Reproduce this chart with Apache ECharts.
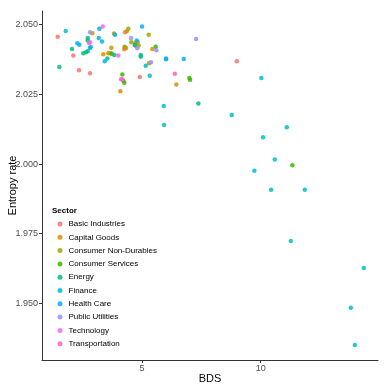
<!DOCTYPE html>
<html>
<head>
<meta charset="utf-8">
<script src="https://cdn.jsdelivr.net/npm/echarts@6/dist/echarts.min.js"></script>
<style>
  html, body { margin: 0; padding: 0; background: #fff; }
  #chart { width: 390px; height: 390px; }
</style>
</head>
<body>
<div id="chart"></div>
<script>
// sectors and their ggplot hue colours
const sectors = ['Basic Industries', 'Capital Goods', 'Consumer Non-Durables', 'Consumer Services',
  'Energy', 'Finance', 'Health Care', 'Public Utilities', 'Technology', 'Transportation'];
const sectorColors = ['#F8766D', '#D89000', '#A3A500', '#39B600', '#00BF7D',
  '#00BFC4', '#00B0F6', '#9590FF', '#E76BF3', '#FF62BC'];

// [BDS, entropy rate] per sector
const basicIndustries = [[1.448, 2.0457], [2.105, 2.0389], [2.345, 2.0336], [2.809, 2.0326], [4.284, 2.0473],
  [4.254, 2.0412], [4.718, 2.0424], [4.903, 2.0312], [8.991, 2.0369]];
const capitalGoods = [[2.906, 2.0469], [3.706, 2.0417], [3.369, 2.0394], [3.580, 2.0397], [3.664, 2.0397],
  [4.355, 2.0476], [4.819, 2.0438], [4.271, 2.0417], [4.326, 2.0416], [5.434, 2.0413], [6.445, 2.0285], [4.086, 2.0261]];
const consumerNonDurables = [[3.820, 2.0468], [4.423, 2.0485], [5.282, 2.0464], [4.549, 2.0437], [4.718, 2.0433],
  [4.271, 2.0421], [4.861, 2.0425], [5.295, 2.0362]];
const consumerServices = [[3.723, 2.0396], [5.577, 2.0421], [4.170, 2.0321], [4.212, 2.0299], [4.254, 2.0292],
  [6.993, 2.0309], [7.023, 2.0302], [11.334, 1.9996]];
const energy = [[2.050, 2.0413], [1.515, 2.0348], [2.712, 2.0452], [2.712, 2.0443], [2.712, 2.0405], [2.640, 2.0401],
  [2.526, 2.0397], [3.832, 2.0391], [3.538, 2.0379], [4.692, 2.0427], [4.945, 2.0391], [4.945, 2.0385], [7.373, 2.0217]];
const finance = [[1.785, 2.0477], [5.156, 2.0353], [5.324, 2.0317], [5.914, 2.0208], [5.927, 2.0140], [8.780, 2.0176],
  [10.027, 2.0309], [11.098, 2.0132], [10.099, 2.0096], [10.592, 2.0016], [9.732, 1.9976], [10.436, 1.9908],
  [11.856, 1.9908], [11.266, 1.9724], [14.343, 1.9627], [13.795, 1.9484], [13.963, 1.9351]];
const healthCare = [[2.274, 2.0433], [2.358, 2.0428], [3.201, 2.0485], [2.838, 2.0420], [2.809, 2.0416], [3.175, 2.0452],
  [3.314, 2.0440], [3.428, 2.0369], [3.862, 2.0464], [5.000, 2.0493], [4.777, 2.0443], [6.011, 2.0379],
  [6.011, 2.0376], [6.757, 2.0377]];
const publicUtilities = [[2.809, 2.0473], [4.536, 2.0452], [4.802, 2.0415], [5.603, 2.0408], [5.379, 2.0365], [7.276, 2.0449]];
const technology = [[3.344, 2.0493], [2.767, 2.0434], [2.809, 2.0437], [4.001, 2.0389]];
const transportation = [[4.115, 2.0304], [4.170, 2.0303], [6.378, 2.0324]];

const sectorData = [basicIndustries, capitalGoods, consumerNonDurables, consumerServices, energy,
  finance, healthCare, publicUtilities, technology, transportation];

const xTicks = [5, 10];
const yTicks = [1.950, 1.975, 2.000, 2.025, 2.050];

const chart = echarts.init(document.getElementById('chart'));
const axisColor = '#333';
const labelColor = '#4d4d4d';

let option = {
  animation: false,
  textStyle: {fontFamily: 'Liberation Sans, Arial, sans-serif'},
  grid: {left: 42, right: 12, top: 11, bottom: 30, outerBoundsMode: 'none', containLabel: false},
  xAxis: {
    type: 'value',
    min: 0.786,
    max: 14.94,
    name: 'BDS',
    nameLocation: 'middle',
    nameGap: 13,
    nameMoveOverlap: false,
    nameTextStyle: {color: '#000', fontSize: 11},
    axisLine: {show: true, lineStyle: {color: axisColor, width: 1}},
    axisTick: {show: true, length: 3, customValues: xTicks, lineStyle: {color: axisColor}},
    axisLabel: {customValues: xTicks, color: labelColor, fontSize: 9, margin: 4},
    splitLine: {show: false}
  },
  yAxis: {
    type: 'value',
    min: 1.9297,
    max: 2.0549,
    name: 'Entropy rate',
    nameLocation: 'middle',
    nameGap: 24,
    nameMoveOverlap: false,
    nameTextStyle: {color: '#000', fontSize: 11},
    axisLine: {show: true, lineStyle: {color: axisColor, width: 1}},
    axisTick: {show: true, length: 3, customValues: yTicks, lineStyle: {color: axisColor}},
    axisLabel: {
      customValues: yTicks, color: labelColor, fontSize: 9, margin: 4,
      formatter: v => v.toFixed(3)
    },
    splitLine: {show: false}
  },
  legend: {
    orient: 'vertical',
    left: 57.5,
    top: 219,
    padding: 0,
    itemWidth: 5,
    itemHeight: 5,
    itemGap: 3.3,
    icon: 'circle',
    textStyle: {fontSize: 8, color: '#000', lineHeight: 10, padding: [0, 0, 0, 1]},
    data: sectors
  },
  graphic: [{
    type: 'text',
    left: 52,
    top: 207,
    style: {text: 'Sector', fontSize: 8, fontWeight: 'bold', fill: '#000', fontFamily: 'Liberation Sans, Arial, sans-serif'}
  }],
  series: []
};

// one scatter series per sector
for (let i = 0; i < sectors.length; i++) {
  option.series.push({
    name: sectors[i],
    type: 'scatter',
    data: sectorData[i],
    symbol: 'circle',
    symbolSize: 4.5,
    itemStyle: {color: sectorColors[i], opacity: 0.85}
  });
}

chart.setOption(option);
</script>
</body>
</html>
